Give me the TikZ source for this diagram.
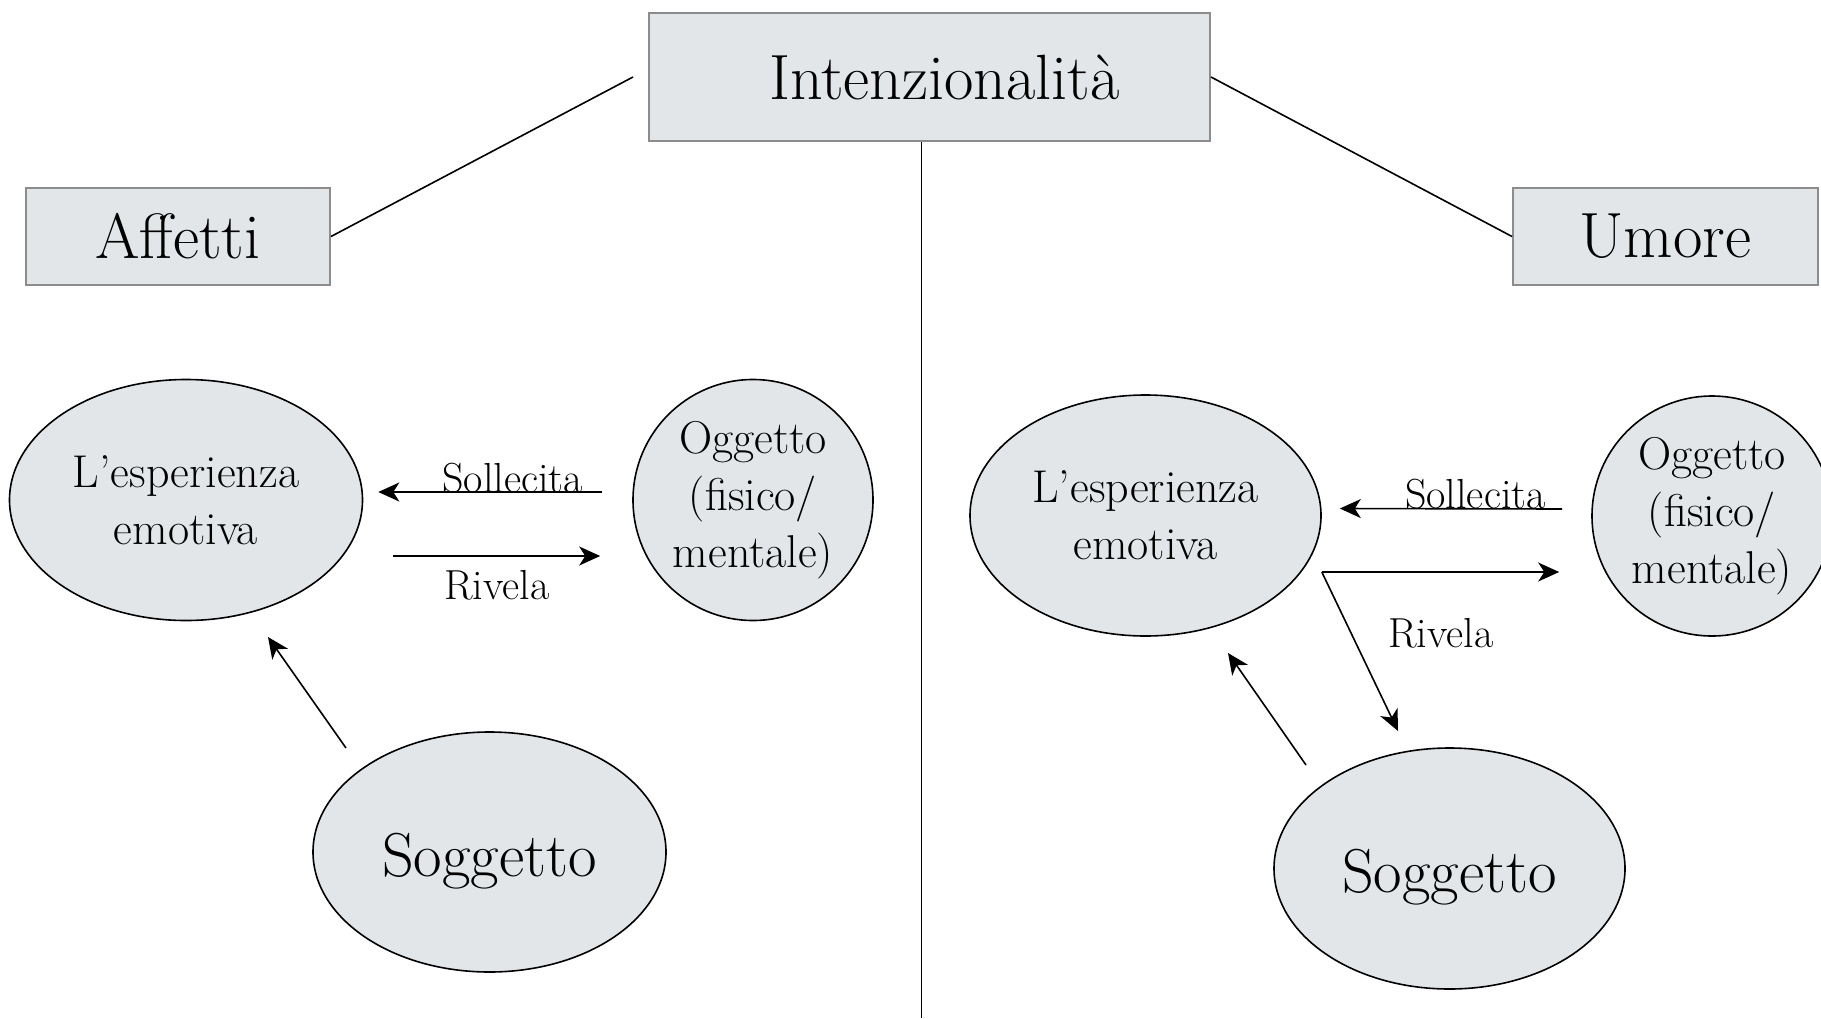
\documentclass[tikz,border=0pt]{standalone}
\usepackage{fontspec}
\usetikzlibrary{shapes.geometric,arrows.meta}
\definecolor{boxfill}{HTML}{E3E6E9}
\definecolor{boxline}{HTML}{8C8C8C}
\tikzset{
  headbox/.style={draw=boxline, fill=boxfill, line width=2pt, inner sep=0pt, font=\fontsize{64}{70}\selectfont},
  bubble/.style={ellipse, draw=black, fill=boxfill, line width=1.6pt, inner sep=0pt, align=center},
  midtxt/.style={font=\fontsize{46}{57}\selectfont},
  bigtxt/.style={font=\fontsize{62}{68}\selectfont, text height=60pt, text depth=12pt},
  lbl/.style={font=\fontsize{42}{48}\selectfont, inner sep=0pt},
  conn/.style={line width=1.6pt},
  arr/.style={line width=1.6pt, -{Stealth[length=21pt,width=19pt,inset=6pt]}},
}
\begin{document}
\begin{tikzpicture}[x=1pt,y=-1pt]
\useasboundingbox (0,0) rectangle (1821,1018);
\clip (0,0) rectangle (1821,1018);

% header boxes
\node[headbox, minimum width=561pt, minimum height=128pt] (int) at (929.5,77) {\hspace*{30pt}\raisebox{-3pt}{Intenzionalità}};
\node[headbox, minimum width=304pt, minimum height=97pt] (aff) at (178,236.5) {Affetti};
\node[headbox, minimum width=305pt, minimum height=97pt] (umo) at (1665.5,236.5) {Umore};

\draw[conn] (aff.east) -- ([xshift=-15pt]int.west);
\draw[conn] (int.east) -- (umo.west);
\coordinate (vbot) at (921.5,1018);
\draw[conn] (int.south -| vbot) -- (vbot);

% left side
\node[bubble, midtxt, minimum width=353pt, minimum height=241pt] (espL) at (186,500) {L’esperienza\\emotiva};
\node[bubble, midtxt, minimum width=240pt, minimum height=241pt] (oggL) at (753,500) {Oggetto\\(fisico/\\mentale)};
\node[bubble, bigtxt, minimum width=353pt, minimum height=240pt] (sogL) at (489.5,852) {Soggetto};

\draw[arr] ([xshift=-30pt,yshift=8pt]oggL.west) -- ([xshift=15pt,yshift=8pt]espL.east)
  node[lbl, pos=0.4, anchor=base] {Sollecita};
\draw[arr] ([xshift=30pt,yshift=-56pt]espL.east) -- ([xshift=-32pt,yshift=-56pt]oggL.west)
  node[lbl, pos=0.5, anchor=base, yshift=-43pt] {Rivela};
\draw[arr] ([shift={(-143.5pt,104pt)}]sogL.center) -- ([shift={(82pt,-137pt)}]espL.center);

% right side
\node[bubble, midtxt, minimum width=351pt, minimum height=241pt] (espR) at (1145.5,515.5) {L’esperienza\\emotiva};
\node[bubble, midtxt, minimum width=240pt, minimum height=240pt] (oggR) at (1712,516) {Oggetto\\(fisico/\\mentale)};
\node[bubble, bigtxt, minimum width=351pt, minimum height=241pt] (sogR) at (1449.5,868.5) {Soggetto};

\draw[arr] ([xshift=-29pt,yshift=7pt]oggR.west) -- ([xshift=18pt,yshift=7pt]espR.east)
  node[lbl, pos=0.39, anchor=base] {Sollecita};
\coordinate (jR) at ([yshift=-56.5pt]espR.east);
\draw[arr, shorten >=32pt] (jR) -- (jR -| oggR.west);
\draw[arr] (jR) -- ([shift={(-51.5pt,137.5pt)}]sogR.center);
\node[lbl, anchor=base] (rivR) at ([shift={(119pt,-75pt)}]jR) {Rivela};
\draw[arr] ([shift={(-143.5pt,103.5pt)}]sogR.center) -- ([shift={(82.5pt,-137.5pt)}]espR.center);
\end{tikzpicture}
\end{document}
